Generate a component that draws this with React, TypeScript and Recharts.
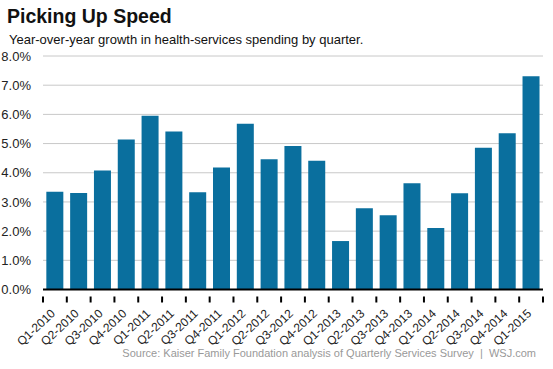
import React from "react";
import { BarChart, Bar, XAxis, YAxis, CartesianGrid } from "recharts";

const quarters = [
  "Q1-2010", "Q2-2010", "Q3-2010", "Q4-2010",
  "Q1-2011", "Q2-2011", "Q3-2011", "Q4-2011",
  "Q1-2012", "Q2-2012", "Q3-2012", "Q4-2012",
  "Q1-2013", "Q2-2013", "Q3-2013", "Q4-2013",
  "Q1-2014", "Q2-2014", "Q3-2014", "Q4-2014",
  "Q1-2015",
];

const growth = [
  3.35, 3.31, 4.08, 5.14,
  5.95, 5.41, 3.33, 4.18,
  5.68, 4.46, 4.92, 4.41,
  1.66, 2.78, 2.54, 3.64,
  2.11, 3.30, 4.86, 5.35,
  7.31,
];

const yTicks = [0, 1, 2, 3, 4, 5, 6, 7, 8];

const title = "Picking Up Speed";
const subtitle = "Year-over-year growth in health-services spending by quarter.";
const source = "Source: Kaiser Family Foundation analysis of Quarterly Services Survey  |  WSJ.com";

const data = quarters.map((q, i) => ({ quarter: q, growth: growth[i] }));

const FONT = "'Liberation Sans', Arial, sans-serif";

const RotatedTick = (props: any) => {
  const { x, y, payload, index } = props;
  const half = payload && typeof payload.offset === "number" ? payload.offset : 0;
  const px = x + 1;
  const py = y + 17;
  const last = index === quarters.length - 1;
  return (
    <g>
      <line x1={x - half} x2={x - half} y1={y - 1} y2={y + 5} stroke="#000" strokeWidth={2} />
      {last && (
        <line x1={x + half} x2={x + half} y1={y - 1} y2={y + 5} stroke="#000" strokeWidth={2} />
      )}
      <text
        x={px}
        y={py}
        textAnchor="end"
        fontSize={12}
        fontFamily={FONT}
        fill="#222"
        transform={`rotate(-43, ${px}, ${py})`}
      >
        {payload.value}
      </text>
    </g>
  );
};

export default function App() {
  return (
    <div
      style={{
        position: "absolute",
        left: 0,
        top: 0,
        width: 553,
        height: 369,
        background: "#fff",
        fontFamily: FONT,
      }}
    >
      <div
        style={{
          position: "absolute",
          left: 7,
          top: 5,
          fontSize: 19.5,
          fontWeight: "bold",
          color: "#111",
          whiteSpace: "nowrap",
        }}
      >
        {title}
      </div>
      <div
        style={{
          position: "absolute",
          left: 9,
          top: 32,
          fontSize: 13,
          color: "#111",
          whiteSpace: "nowrap",
        }}
      >
        {subtitle}
      </div>
      <div style={{ position: "absolute", left: 0, top: 0 }}>
        <BarChart
          width={553}
          height={369}
          data={data}
          margin={{ top: 56, right: 10, bottom: 0, left: 0 }}
          barCategoryGap="14%"
        >
          <CartesianGrid vertical={false} stroke="#c8c8c8" strokeWidth={1} />
          <XAxis
            dataKey="quarter"
            interval={0}
            tickLine={false}
            axisLine={{ stroke: "#000", strokeWidth: 2 }}
            tick={<RotatedTick />}
            height={79.5}
          />
          <YAxis
            domain={[0, 8]}
            ticks={yTicks}
            tickFormatter={(v: number) => `${v.toFixed(1)}%`}
            axisLine={false}
            tickLine={false}
            tickSize={0}
            tickMargin={12}
            width={43}
            tick={{ fontSize: 13, fill: "#222", fontFamily: FONT }}
          />
          <Bar dataKey="growth" fill="#0a6f9e" isAnimationActive={false} />
        </BarChart>
      </div>
      <div
        style={{
          position: "absolute",
          right: 17,
          top: 347,
          fontSize: 11,
          color: "#999",
          whiteSpace: "pre",
        }}
      >
        {source}
      </div>
    </div>
  );
}
